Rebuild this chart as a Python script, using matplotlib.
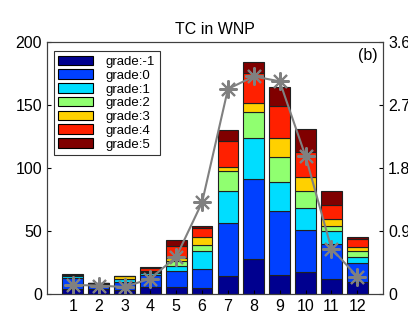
import matplotlib
matplotlib.use("Agg")
import matplotlib.pyplot as plt
import numpy as np

plt.rcParams['font.family'] = ['Liberation Sans', 'DejaVu Sans']

months = [1, 2, 3, 4, 5, 6, 7, 8, 9, 10, 11, 12]
grade_labels = ['grade:-1', 'grade:0', 'grade:1', 'grade:2', 'grade:3', 'grade:4', 'grade:5']
g_m1 = [4.0, 4.0, 3.4, 5.3, 5.3, 5.0, 14.0, 28.0, 15.0, 17.7, 12.0, 9.3]
g_0 = [9.0, 4.2, 5.8, 9.8, 12.7, 14.8, 42.0, 63.0, 51.0, 33.4, 28.0, 15.6]
g_1 = [1.5, 0.3, 2.6, 1.5, 4.5, 14.3, 25.6, 32.5, 23.0, 17.2, 9.7, 4.2]
g_2 = [0.8, 0.0, 0.5, 1.0, 4.0, 4.8, 16.0, 21.0, 19.5, 13.2, 4.3, 4.8]
g_3 = [0.0, 0.0, 1.7, 0.8, 2.1, 6.1, 3.5, 7.4, 15.0, 11.6, 5.5, 3.1]
g_4 = [0.0, 0.0, 0.3, 1.9, 9.8, 7.1, 20.6, 23.8, 26.0, 19.3, 11.0, 6.4]
g_5 = [0.7, 0.3, 0.2, 0.9, 4.7, 2.1, 8.5, 8.5, 15.0, 18.6, 11.0, 1.6]
line_vals = [0.13, 0.12, 0.10, 0.22, 0.53, 1.31, 2.93, 3.11, 3.04, 1.97, 0.65, 0.25]

series = [g_m1, g_0, g_1, g_2, g_3, g_4, g_5]
colors = ['#00008F', '#0040FF', '#00DDFF', '#90FF70', '#FFD000', '#FF2000', '#800000']

fig = plt.figure(figsize=(4.08, 3.18), dpi=100)
ax = fig.add_axes([0.115, 0.0755, 0.824, 0.792])

bottom = np.zeros(len(months))
for vals, c, lab in zip(series, colors, grade_labels):
    ax.bar(months, vals, width=0.8, bottom=bottom, color=c, edgecolor='#202020',
           linewidth=0.8, label=lab)
    bottom += np.array(vals)

ax.set_xlim(0, 13)
ax.set_ylim(0, 200)
ax.set_xticks(months)
ax.set_yticks([0, 50, 100, 150, 200])
ax.tick_params(direction='in', labelsize=11.5, length=3)
ax.set_title('TC in WNP', fontsize=11.5, pad=6)
ax.text(0.985, 0.975, '(b)', transform=ax.transAxes, ha='right', va='top', fontsize=11.5)

leg = ax.legend(loc='upper left', bbox_to_anchor=(0.02, 0.965), fontsize=9.5,
                frameon=True, fancybox=False, edgecolor='black', handlelength=2.6,
                handleheight=0.75, labelspacing=0.1, borderpad=0.35, handletextpad=1.0,
                borderaxespad=0.0)
leg.get_frame().set_linewidth(0.8)
for p in leg.get_patches():
    p.set_edgecolor('black')

ax2 = ax.twinx()
ax2.plot(months, line_vals, color='#808080', linewidth=1.5, marker=(8, 2, 0),
         markersize=13, markeredgewidth=1.5, markeredgecolor='#808080')
ax2.set_ylim(0, 3.6)
ax2.set_yticks([0, 0.9, 1.8, 2.7, 3.6])
ax2.set_yticklabels(['0', '0.9', '1.8', '2.7', '3.6'])
ax2.tick_params(direction='in', labelsize=11.5, length=3)

for a in (ax, ax2):
    for s in a.spines.values():
        s.set_color('#404040')
        s.set_linewidth(0.8)

fig.savefig('out.png', dpi=100)
